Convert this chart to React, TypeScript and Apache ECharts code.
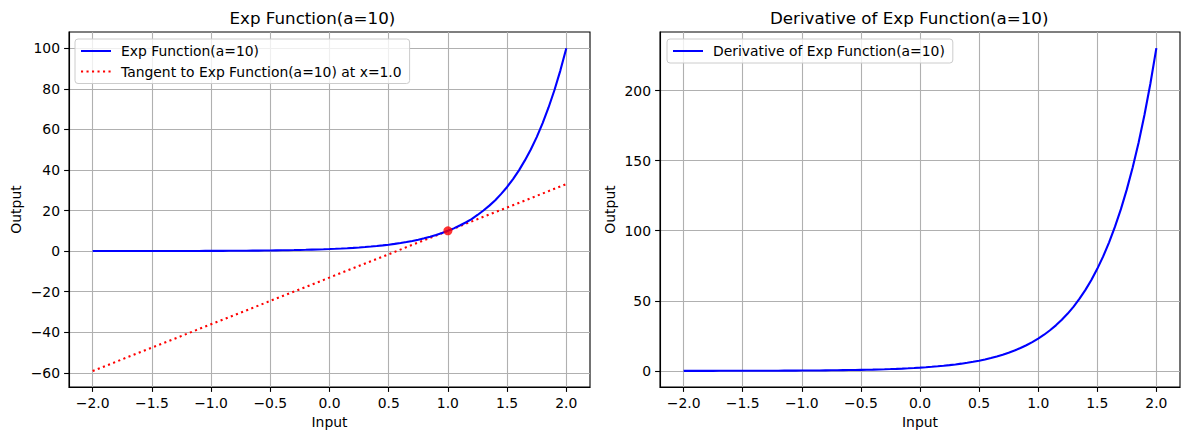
import React, { useEffect, useRef } from "react";
import * as echarts from "echarts";

const xValues = [
  -2.0, -1.95, -1.9, -1.85, -1.8, -1.75, -1.7, -1.65, -1.6, -1.55, -1.5, -1.45, -1.4, -1.35, -1.3, -1.25, -1.2, -1.15,
  -1.1, -1.05, -1.0, -0.95, -0.9, -0.85, -0.8, -0.75, -0.7, -0.65, -0.6, -0.55, -0.5, -0.45, -0.4, -0.35, -0.3, -0.25,
  -0.2, -0.15, -0.1, -0.05, 0.0, 0.05, 0.1, 0.15, 0.2, 0.25, 0.3, 0.35, 0.4, 0.45, 0.5, 0.55, 0.6, 0.65, 0.7, 0.75, 0.8,
  0.85, 0.9, 0.95, 1.0, 1.05, 1.1, 1.15, 1.2, 1.25, 1.3, 1.35, 1.4, 1.45, 1.5, 1.55, 1.6, 1.65, 1.7, 1.75, 1.8, 1.85, 1.9,
  1.95, 2.0,
];
const expValues = [
  0.01, 0.011, 0.013, 0.014, 0.016, 0.018, 0.02, 0.022, 0.025, 0.028, 0.032, 0.035, 0.04, 0.045, 0.05, 0.056, 0.063,
  0.071, 0.079, 0.089, 0.1, 0.112, 0.126, 0.141, 0.158, 0.178, 0.2, 0.224, 0.251, 0.282, 0.316, 0.355, 0.398, 0.447,
  0.501, 0.562, 0.631, 0.708, 0.794, 0.891, 1.0, 1.12, 1.26, 1.41, 1.58, 1.78, 2.0, 2.24, 2.51, 2.82, 3.16, 3.55, 3.98,
  4.47, 5.01, 5.62, 6.31, 7.08, 7.94, 8.91, 10.0, 11.2, 12.6, 14.1, 15.8, 17.8, 20.0, 22.4, 25.1, 28.2, 31.6, 35.5,
  39.8, 44.7, 50.1, 56.2, 63.1, 70.8, 79.4, 89.1, 100.0,
];
const derivValues = [
  0.023, 0.026, 0.029, 0.032, 0.036, 0.041, 0.046, 0.052, 0.058, 0.065, 0.073, 0.082, 0.092, 0.103, 0.115, 0.129, 0.145,
  0.163, 0.183, 0.205, 0.23, 0.258, 0.29, 0.325, 0.365, 0.409, 0.459, 0.515, 0.578, 0.649, 0.728, 0.817, 0.917, 1.03,
  1.15, 1.29, 1.45, 1.63, 1.83, 2.05, 2.3, 2.58, 2.9, 3.25, 3.65, 4.09, 4.59, 5.15, 5.78, 6.49, 7.28, 8.17, 9.17, 10.3,
  11.5, 12.9, 14.5, 16.3, 18.3, 20.5, 23.0, 25.8, 29.0, 32.5, 36.5, 40.9, 45.9, 51.5, 57.8, 64.9, 72.8, 81.7, 91.7,
  102.9, 115.4, 129.5, 145.3, 163.0, 182.9, 205.2, 230.3,
];
const tangentX = [-2.0, 2.0];
const tangentY = [-59.1, 33.0];
const pointX = [1.0];
const pointY = [10.0];

const xTicks = [-2.0, -1.5, -1.0, -0.5, 0.0, 0.5, 1.0, 1.5, 2.0];
const xTickLabels = ["−2.0", "−1.5", "−1.0", "−0.5", "0.0", "0.5", "1.0", "1.5", "2.0"];
const yTicksLeft = [-60, -40, -20, 0, 20, 40, 60, 80, 100];
const yTickLabelsLeft = ["−60", "−40", "−20", "0", "20", "40", "60", "80", "100"];
const yTicksRight = [0, 50, 100, 150, 200];
const yTickLabelsRight = ["0", "50", "100", "150", "200"];

const titleLeft = "Exp Function(a=10)";
const titleRight = "Derivative of Exp Function(a=10)";
const seriesExp = "Exp Function(a=10)";
const seriesTangent = "Tangent to Exp Function(a=10) at x=1.0";
const seriesDeriv = "Derivative of Exp Function(a=10)";

const FONT = "DejaVu Sans";
const FS = 13.9;

function labelFor(ticks: number[], labels: string[]) {
  return (v: number) => {
    for (let i = 0; i < ticks.length; i++) {
      if (Math.abs(ticks[i] - v) < 1e-6) return labels[i];
    }
    return "";
  };
}

function makeXAxis(gridIndex: number) {
  return {
    type: "value",
    gridIndex,
    min: -2.2,
    max: 2.2,
    name: "Input",
    nameLocation: "middle",
    nameGap: 26,
    nameTextStyle: { color: "#000", fontSize: FS, fontFamily: FONT },
    axisLine: { show: true, onZero: false, lineStyle: { color: "#000", width: 1.1 } },
    axisTick: { show: true, length: 4.9, customValues: xTicks, lineStyle: { color: "#000", width: 1.1 } },
    axisLabel: {
      customValues: xTicks,
      formatter: labelFor(xTicks, xTickLabels),
      color: "#000",
      fontSize: FS,
      fontFamily: FONT,
      margin: 9,
    },
    splitLine: { show: true, lineStyle: { color: "#b0b0b0", width: 1.1 } },
  };
}

function makeYAxis(gridIndex: number, min: number, max: number, ticks: number[], labels: string[], gap: number) {
  return {
    type: "value",
    gridIndex,
    min,
    max,
    name: "Output",
    nameLocation: "middle",
    nameRotate: 90,
    nameGap: gap,
    nameTextStyle: { color: "#000", fontSize: FS, fontFamily: FONT },
    axisLine: { show: true, onZero: false, lineStyle: { color: "#000", width: 1.1 } },
    axisTick: { show: true, length: 4.9, customValues: ticks, lineStyle: { color: "#000", width: 1.1 } },
    axisLabel: {
      customValues: ticks,
      formatter: labelFor(ticks, labels),
      color: "#000",
      fontSize: FS,
      fontFamily: FONT,
      margin: 9,
    },
    splitLine: { show: true, lineStyle: { color: "#b0b0b0", width: 1.1 } },
  };
}

const legendCommon = {
  orient: "vertical",
  itemWidth: 30,
  itemHeight: 14,
  itemGap: 6.5,
  padding: [5, 8, 5, 5],
  backgroundColor: "rgba(255,255,255,0.8)",
  borderColor: "#cccccc",
  borderWidth: 1,
  borderRadius: 3,
  itemStyle: { opacity: 0 },
  textStyle: { color: "#000", fontSize: FS, fontFamily: FONT, padding: [0, 0, 0, 5] },
};

export default function App() {
  const ref = useRef<HTMLDivElement>(null);

  useEffect(() => {
    if (!ref.current) return;
    const chart = echarts.init(ref.current, null, { renderer: "svg" });
    const zip = (xs: number[], ys: number[]) => xs.map((x, i) => [x, ys[i]]);

    chart.setOption({
      animation: false,
      backgroundColor: "#fff",
      grid: [
        { left: 69, top: 32, width: 521, height: 355, show: true, borderColor: "#000", borderWidth: 1.1 },
        { left: 660, top: 32, width: 520, height: 355, show: true, borderColor: "#000", borderWidth: 1.1 },
      ],
      xAxis: [makeXAxis(0), makeXAxis(1)],
      yAxis: [
        makeYAxis(0, -67.0, 108.0, yTicksLeft, yTickLabelsLeft, 46),
        makeYAxis(1, -11.5, 241.8, yTicksRight, yTickLabelsRight, 43),
      ],
      legend: [
        {
          ...legendCommon,
          left: 75,
          top: 39,
          data: [seriesExp, seriesTangent],
        },
        {
          ...legendCommon,
          left: 667,
          top: 39,
          data: [seriesDeriv],
        },
      ],
      graphic: [
        {
          type: "text",
          left: 329.5 - 100,
          top: 9,
          style: { text: titleLeft, fill: "#000", font: `16.7px "${FONT}"`, width: 200, align: "center" },
        },
        {
          type: "text",
          left: 920 - 150,
          top: 9,
          style: { text: titleRight, fill: "#000", font: `16.7px "${FONT}"`, width: 300, align: "center" },
        },
      ],
      series: [
        {
          name: seriesExp,
          type: "line",
          xAxisIndex: 0,
          yAxisIndex: 0,
          data: zip(xValues, expValues),
          showSymbol: false,
          symbol: "none",
          lineStyle: { color: "#0000ff", width: 2.1 },
          itemStyle: { color: "#0000ff" },
          z: 3,
        },
        {
          name: seriesTangent,
          type: "line",
          xAxisIndex: 0,
          yAxisIndex: 0,
          data: zip(tangentX, tangentY),
          symbol: "none",
          lineStyle: { color: "#ff0000", width: 2.1, type: [2.1, 3.4], cap: "butt" },
          itemStyle: { color: "#ff0000" },
          z: 2,
        },
        {
          name: "Point",
          type: "scatter",
          xAxisIndex: 0,
          yAxisIndex: 0,
          data: zip(pointX, pointY),
          symbol: "circle",
          symbolSize: 9,
          itemStyle: { color: "#ff0000" },
          z: 4,
        },
        {
          name: seriesDeriv,
          type: "line",
          xAxisIndex: 1,
          yAxisIndex: 1,
          data: zip(xValues, derivValues),
          symbol: "none",
          lineStyle: { color: "#0000ff", width: 2.1 },
          itemStyle: { color: "#0000ff" },
          z: 3,
        },
      ],
    });
    return () => chart.dispose();
  }, []);

  return (
    <div
      ref={ref}
      style={{ position: "absolute", left: 0, top: 0, width: 1189, height: 440, background: "#fff" }}
    />
  );
}
